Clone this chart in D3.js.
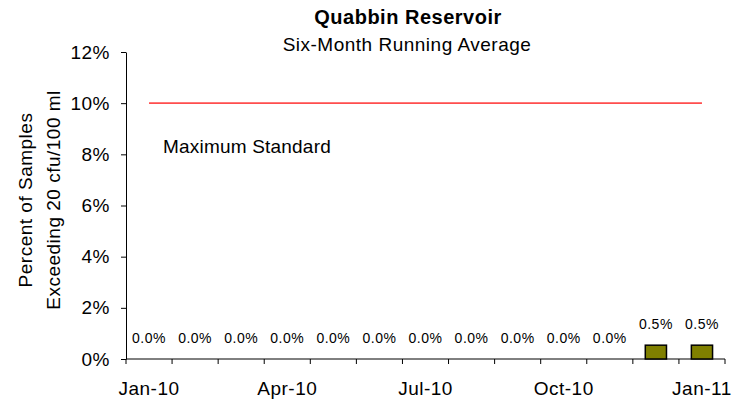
<!DOCTYPE html>
<html>
<head>
<meta charset="utf-8">
<script src="https://cdn.jsdelivr.net/npm/d3@7"></script>
<style>
  body { margin: 0; background: #fff; }
  svg { display: block; font-family: "Liberation Sans", Arial, sans-serif; }
  .axis path, .axis line { stroke: #000; stroke-width: 1; }
  .axis text { font-family: "Liberation Sans", Arial, sans-serif; font-size: 19px; letter-spacing: 0.5px; fill: #000; }
</style>
</head>
<body>
<svg id="chart" width="750" height="401"></svg>
<script>
// months on the category axis
var months = ["Jan-10", "Feb-10", "Mar-10", "Apr-10", "May-10", "Jun-10", "Jul-10",
              "Aug-10", "Sep-10", "Oct-10", "Nov-10", "Dec-10", "Jan-11"];
// percent of samples exceeding 20 cfu/100 ml (six-month running average)
var percents = [0, 0, 0, 0, 0, 0, 0, 0, 0, 0, 0, 0.54, 0.54];
var yTicks = [0, 2, 4, 6, 8, 10, 12];
var labelMonths = ["Jan-10", "Apr-10", "Jul-10", "Oct-10", "Jan-11"];
var maxStandard = 10;

var rows = months.map(function(m, i) { return { month: m, value: percents[i] }; });

var svg = d3.select("#chart");

var x = d3.scaleBand()
    .domain(months)
    .range([126, 725]);

var y = d3.scaleLinear()
    .domain([0, 12])
    .range([359, 52]);

function mid(m) { return x(m) + x.bandwidth() / 2; }

// titles
svg.append("text")
    .attr("x", 408).attr("y", 24)
    .attr("text-anchor", "middle")
    .style("font-size", "20px").style("font-weight", "bold")
    .style("letter-spacing", "0.5px")
    .text("Quabbin Reservoir");

svg.append("text")
    .attr("x", 407).attr("y", 51)
    .attr("text-anchor", "middle")
    .style("font-size", "19px").style("letter-spacing", "0.5px")
    .text("Six-Month Running Average");

// y axis title, two lines
var yTitle = svg.append("text")
    .attr("transform", "translate(0,200) rotate(-90)")
    .attr("text-anchor", "middle")
    .style("font-size", "19px").style("letter-spacing", "0.5px");
yTitle.append("tspan").attr("x", 0).attr("y", 32).text("Percent of Samples");
yTitle.append("tspan").attr("x", 0).attr("y", 60).text("Exceeding 20 cfu/100 ml");

// y axis
svg.append("g")
    .attr("class", "axis")
    .attr("transform", "translate(126,0)")
    .call(d3.axisLeft(y)
        .tickValues(yTicks)
        .tickSize(5)
        .tickSizeOuter(0)
        .tickPadding(11)
        .tickFormat(function(d) { return d + "%"; }));

// x axis line, tick marks at month boundaries, labels every 3 months
var xAxis = svg.append("g").attr("class", "axis");
xAxis.append("line")
    .attr("x1", x.range()[0]).attr("x2", x.range()[1])
    .attr("y1", y(0)).attr("y2", y(0));
var bounds = months.map(function(m) { return x(m); }).concat([x.range()[1]]);
xAxis.selectAll(".xtick")
    .data(bounds)
  .enter().append("line")
    .attr("class", "xtick")
    .attr("x1", function(d) { return d; }).attr("x2", function(d) { return d; })
    .attr("y1", y(0)).attr("y2", y(0) + 5);
xAxis.selectAll(".xlabel")
    .data(labelMonths)
  .enter().append("text")
    .attr("class", "xlabel")
    .attr("x", mid)
    .attr("y", 395)
    .attr("text-anchor", "middle")
    .text(function(d) { return d; });

// maximum standard line
svg.append("line")
    .attr("x1", mid(months[0]))
    .attr("x2", mid(months[months.length - 1]))
    .attr("y1", y(maxStandard)).attr("y2", y(maxStandard))
    .attr("stroke", "#ff4d4d")
    .attr("stroke-width", 1.6);

svg.append("text")
    .attr("x", 163).attr("y", 153)
    .style("font-size", "19px").style("letter-spacing", "0.2px")
    .text("Maximum Standard");

// bars
var barW = x.bandwidth() * 0.46;
svg.selectAll(".bar")
    .data(rows.filter(function(d) { return d.value > 0; }))
  .enter().append("rect")
    .attr("class", "bar")
    .attr("x", function(d) { return mid(d.month) - barW / 2; })
    .attr("y", function(d) { return y(d.value); })
    .attr("width", barW)
    .attr("height", function(d) { return y(0) - y(d.value); })
    .attr("fill", "#808000")
    .attr("stroke", "#000")
    .attr("stroke-width", 1.5);

// data labels
svg.selectAll(".dlabel")
    .data(rows)
  .enter().append("text")
    .attr("class", "dlabel")
    .attr("x", function(d) { return mid(d.month); })
    .attr("y", function(d) { return y(d.value) - 16; })
    .attr("text-anchor", "middle")
    .style("font-size", "14px").style("letter-spacing", "0.5px")
    .text(function(d) { return d.value.toFixed(1) + "%"; });
</script>
</body>
</html>
